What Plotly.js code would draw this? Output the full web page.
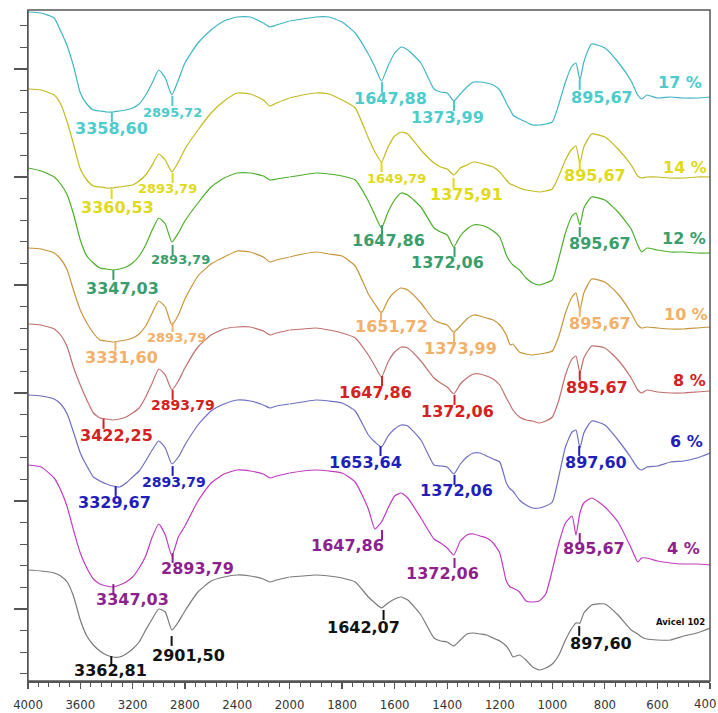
<!DOCTYPE html>
<html>
<head>
<meta charset="utf-8">
<script src="https://cdn.plot.ly/plotly-3.0.1.min.js"></script>
<style>
html,body{margin:0;padding:0;background:#ffffff;}
#chart{width:718px;height:713px;}
</style>
</head>
<body>
<div id="chart"></div>
<script>
// Wavenumber grid (cm-1), 4000 -> 400
const wavenumber = [4000,3900,3800,3750,3700,3650,3600,3550,3500,3450,3400,3350,3300,3250,3200,3150,3100,3050,3000,2950,2900,2850,2800,2700,2600,2500,2400,2300,2200,2150,2100,2000,
  1950,1900,1850,1800,1750,1700,1675,1650,1625,1600,1575,1550,1500,1450,1425,1400,1375,1350,1325,1300,1275,1250,1225,1200,1175,1160,1150,1125,1100,1075,1050,1025,1000,975,950,925,910,895,880,850,800,750,700,675,660,640,600,550,500,450,400];

// Sample names (top to bottom)
const samples = ['17 %','14 %','12 %','10 %','8 %','6 %','4 %','Avicel 102'];

// Stacked spectra, offset units (larger = lower on the chart)
const s17 = [12,13,18,31,46,67,93,104,110,111,112,112,111,110,108,104,95,83,70,78,95,80,63,43,30,21,17,17,23,27,25,21,
  19,17,17,22,33,54,67,81,66,53,47,50,63,89,92,93,101,94,87,82,82,83,85,90,103,110,115,119,122,125,125,124,122,104,82,66,63,80,62,44,48,62,81,95,99,95,98,97,98,98,97];
const s14 = [89,90,95,104,122,145,169,180,186,187,188,188,187,186,185,181,175,165,154,160,172,162,149,130,113,101,93,94,100,106,103,98,
  95,93,94,100,108,138,152,162,147,136,132,134,150,163,167,169,175,168,165,162,163,165,167,172,180,184,185,188,190,191,192,191,189,176,160,149,146,163,147,134,137,149,165,176,178,177,177,178,178,177,177];
const s12 = [168,171,177,184,195,215,240,256,263,268,269,270,269,267,263,256,245,230,218,224,242,233,221,203,187,178,173,173,176,180,179,177,
  175,173,174,176,180,201,215,228,212,200,193,195,207,228,232,235,247,236,229,225,225,227,231,237,255,262,265,270,278,283,285,283,280,258,233,216,213,225,208,197,200,212,229,245,252,248,250,252,252,253,253];
const s10 = [248,249,253,259,270,291,310,323,333,340,341,342,341,340,338,334,326,313,301,307,325,315,299,276,264,257,251,252,257,262,260,257,
  254,252,254,256,266,294,304,313,300,292,288,290,303,320,323,325,332,326,319,315,316,318,320,325,335,345,344,352,354,355,354,353,351,336,313,297,293,310,293,279,282,294,313,325,328,327,328,329,329,328,327];
const s8 = [324,325,329,335,347,368,385,400,413,418,419,420,419,417,413,408,397,383,369,375,390,381,368,347,335,329,327,327,331,335,333,330,
  329,328,330,333,338,355,366,377,362,352,347,348,361,378,383,387,394,384,378,374,374,376,379,385,398,405,410,417,420,421,423,421,417,400,375,359,356,373,358,346,348,360,378,390,393,390,392,393,393,392,391];
const s6 = [395,396,399,404,414,433,453,466,477,481,484,486,487,483,477,471,461,450,441,448,464,457,445,425,411,404,400,401,405,408,406,404,
  402,400,401,403,411,435,442,447,436,429,425,426,440,465,466,467,474,464,457,453,453,456,459,462,483,489,491,500,505,508,508,506,502,476,447,432,430,448,433,421,425,440,458,468,470,467,466,462,461,458,453];
const s4 = [465,467,478,490,507,531,553,568,579,584,586,587,585,582,577,568,556,537,524,535,556,537,526,501,483,474,470,471,474,478,476,473,
  471,470,471,473,482,509,529,522,508,496,493,498,518,539,543,548,555,541,535,534,536,538,543,553,581,587,588,592,601,602,601,594,570,543,523,516,535,513,503,498,507,522,548,562,558,558,561,563,564,564,565];
const sAvicel = [570,571,573,576,582,597,620,636,645,651,655,657,657,654,649,642,630,619,609,612,630,622,611,592,581,577,575,576,579,582,580,577,
  576,575,576,578,582,597,603,608,603,599,597,600,615,638,641,642,646,640,634,633,634,635,638,641,646,652,657,655,660,667,670,668,664,655,640,628,623,623,613,605,604,615,630,634,637,639,640,640,636,633,628];

// Peak labels (cm-1)
const peaks17 = ['3358,60','2895,72','1647,88','1373,99','895,67'];
const peaks14 = ['3360,53','2893,79','1649,79','1375,91','895,67'];
const peaks12 = ['3347,03','2893,79','1647,86','1372,06','895,67'];
const peaks10 = ['3331,60','2893,79','1651,72','1373,99','895,67'];
const peaks8  = ['3422,25','2893,79','1647,86','1372,06','895,67'];
const peaks6  = ['3329,67','2893,79','1653,64','1372,06','897,60'];
const peaks4  = ['3347,03','2893,79','1647,86','1372,06','895,67'];
const peaksAvicel = ['3362,81','2901,50','1642,07','897,60'];

// x-axis tick labels
const tickHigh = [4000,3600,3200,2800,2400];
const tickLow = [2000,1800,1600,1400,1200,1000,800,600,400];

const series = [s17,s14,s12,s10,s8,s6,s4,sAvicel];
const peakSets = [peaks17,peaks14,peaks12,peaks10,peaks8,peaks6,peaks4,peaksAvicel];

// ---- styling / placement (not data) ----
const lineColors  = ['#3fb6c2','#c2bb1e','#4caf2a','#c8953c','#c0706e','#6f6fc2','#c03cc0','#7a7a7a'];
const labelColors = ['#4ccccc','#e0da1a','#3a9e6c','#f2b06a','#d42222','#1f1fba','#8e1f8e','#111111'];
// [tick y, text x-shift px, text y, font size]
const placements = [
  [[117,0,128,16],[101,0,112,13],[87,8,98,16],[106,-7,117,16],[85,22,97,16]],
  [[194,6,207,16],[178,-5,188,13],[167,15,178,13],[183,13,194,16],[164,15,175,16]],
  [[275,9,288,16],[250,8,259,13],[230,6,240,16],[252,-7,262,16],[232,20,243,16]],
  [[346,6,357,16],[327,4,337,13],[316,10,326,16],[337,6,348,16],[312,20,323,16]],
  [[424,13,435,16],[395,10,405,14],[381,-7,392,16],[400,3,411,16],[376,17,387,16]],
  [[491,-1,502,16],[471,1,482,14],[451,-15,462,16],[480,2,490,16],[451,17,462,16]],
  [[589,19,599,16],[558,25,568,16],[535,-35,545,16],[563,-12,573,16],[538,14,548,16]],
  [[661,-1,670,16],[641,17,655,16],[615,-20,627,16],[631,22,643,16]]
];
const nameLabelPos = [[680,82,16],[685,167,16],[684,238,16],[686,314,16],[689,380,16],[686,441,16],[683,548,16],[680,622,8.5]];

const PLOT_L = 28, PLOT_W = 682, PLOT_T = 10, PLOT_H = 671;
const BREAK = (289.5 - PLOT_L) / PLOT_W;

const traces = [];
series.forEach((s, i) => {
  const x1 = [], y1 = [], x2 = [], y2 = [];
  wavenumber.forEach((w, k) => {
    if (w >= 2000) { x1.push(w); y1.push(s[k]); }
    if (w <= 2000) { x2.push(w); y2.push(s[k]); }
  });
  const line = {color: lineColors[i], width: 1.2, shape: 'spline', smoothing: 0.5};
  traces.push({x: x1, y: y1, xaxis: 'x', yaxis: 'y', mode: 'lines', line, hoverinfo: 'skip', showlegend: false, name: samples[i]});
  traces.push({x: x2, y: y2, xaxis: 'x2', yaxis: 'y', mode: 'lines', line, hoverinfo: 'skip', showlegend: false, name: samples[i]});
});

const toNum = s => parseFloat(s.replace(',', '.'));
const tk = {x: {x: [], y: [], c: []}, x2: {x: [], y: [], c: []}};
const annotations = [];
peakSets.forEach((set, i) => {
  set.forEach((lab, j) => {
    const w = toNum(lab);
    const p = placements[i][j];
    const ax = w >= 2000 ? 'x' : 'x2';
    tk[ax].x.push(w); tk[ax].y.push(p[0]); tk[ax].c.push(labelColors[i]);
    annotations.push({
      x: w, y: p[2], xref: ax, yref: 'y', xshift: p[1], showarrow: false,
      text: lab, xanchor: 'center', yanchor: 'middle',
      font: {family: 'DejaVu Sans, Verdana, sans-serif', size: p[3], color: labelColors[i], weight: 'bold'}
    });
  });
});
['x', 'x2'].forEach(ax => {
  traces.push({
    x: tk[ax].x, y: tk[ax].y, xaxis: ax, yaxis: 'y', mode: 'markers', hoverinfo: 'skip', showlegend: false,
    marker: {symbol: 'line-ns', size: 7, line: {width: 2, color: tk[ax].c}}
  });
});
samples.forEach((name, i) => {
  const p = nameLabelPos[i];
  annotations.push({
    x: (p[0] - PLOT_L) / PLOT_W, y: p[1], xref: 'paper', yref: 'y', showarrow: false,
    text: name, xanchor: 'center', yanchor: 'middle',
    font: {family: 'DejaVu Sans, Verdana, sans-serif', size: p[2], color: labelColors[i], weight: 'bold'}
  });
});

const tickFont = {family: 'Liberation Sans Narrow, DejaVu Sans Condensed, sans-serif', size: 13, color: '#333'};

// last tick label (400) sits on the right frame edge: draw it right-aligned so it stays inside the page
const lastTick = tickLow[tickLow.length - 1];
annotations.push({
  x: 1, y: -(704 - (PLOT_T + PLOT_H)) / PLOT_H, xref: 'paper', yref: 'paper',
  xanchor: 'right', yanchor: 'middle', showarrow: false, xshift: 8,
  text: String(lastTick), font: tickFont
});

const axisCommon = {
  ticks: 'outside', ticklen: 6, tickwidth: 1.2, tickcolor: '#555',
  showline: true, linecolor: '#555', linewidth: 1.5, showgrid: false, zeroline: false,
  tickfont: tickFont, ticklabelstandoff: 5, anchor: 'y', fixedrange: true, tickmode: 'array'
};

const layout = {
  width: 718, height: 713,
  margin: {l: PLOT_L, r: 8, t: PLOT_T, b: 32},
  paper_bgcolor: '#ffffff', plot_bgcolor: '#ffffff',
  showlegend: false,
  xaxis: Object.assign({}, axisCommon, {
    domain: [0, BREAK], range: [4000, 2000],
    tickvals: tickHigh, ticktext: tickHigh.map(String),
    minor: {tickmode: 'linear', tick0: 4000, dtick: 80, ticks: 'outside', ticklen: 4, tickwidth: 1, tickcolor: '#555'}
  }),
  xaxis2: Object.assign({}, axisCommon, {
    domain: [BREAK, 1], range: [2000, 400],
    tickvals: tickLow, ticktext: tickLow.map(v => v === lastTick ? '' : String(v)),
    minor: {tickmode: 'linear', tick0: 2000, dtick: 40, ticks: 'outside', ticklen: 4, tickwidth: 1, tickcolor: '#555'}
  }),
  yaxis: {
    range: [681, 10], tickmode: 'linear', tick0: 69, dtick: 108,
    ticks: 'outside', ticklen: 13, tickwidth: 1.5, tickcolor: '#555',
    minor: {tickmode: 'linear', tick0: 69, dtick: 21.6, ticks: 'outside', ticklen: 7, tickwidth: 1.2, tickcolor: '#555'},
    showticklabels: false, showline: true, linecolor: '#555', linewidth: 1.5,
    showgrid: false, zeroline: false, anchor: 'x', fixedrange: true
  },
  shapes: [{type: 'rect', xref: 'paper', yref: 'paper', x0: 0, x1: 1, y0: 0, y1: 1, line: {color: '#555', width: 1.5}}],
  annotations: annotations
};

Plotly.newPlot('chart', traces, layout, {displayModeBar: false, staticPlot: true});
</script>
</body>
</html>
